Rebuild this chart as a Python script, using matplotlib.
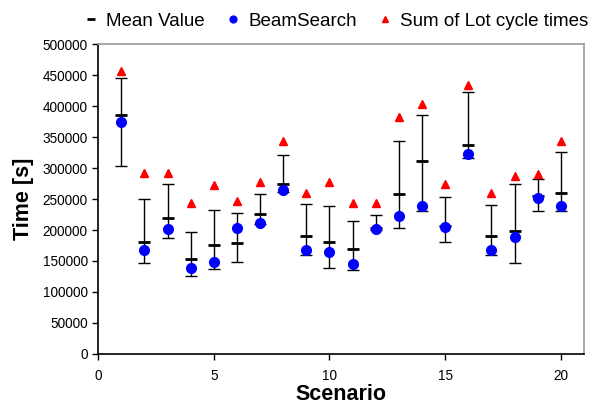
import numpy as np
import matplotlib.pyplot as plt

plt.rcParams['font.family'] = ['Liberation Sans', 'DejaVu Sans']

# scenario numbers
scenario = np.arange(1, 21)

# BeamSearch result per scenario
beam = [374000, 167000, 201000, 139000, 148000, 204000, 211500, 265000, 167000, 165000,
        144500, 201000, 222000, 239000, 204500, 322500, 167000, 189500, 252500, 239000]

# Sum of Lot cycle times
lot_sum = [457000, 292000, 292000, 244000, 272000, 247500, 277000, 344000, 259500, 277000,
           243000, 243000, 383500, 404000, 275000, 435000, 259500, 287500, 290000, 343500]

# Mean value with min / max range
mean_val = [386500, 180500, 220000, 153000, 175500, 179000, 225500, 275000, 191000, 180000,
            170000, 203000, 258000, 311000, 206000, 338000, 191000, 198000, 255000, 259500]
range_max = [445500, 250500, 274000, 197000, 233000, 227500, 258500, 320500, 241500, 238500,
             214000, 224500, 344500, 385500, 253500, 423500, 241000, 274500, 282500, 326000]
range_min = [303000, 147000, 186500, 126000, 137000, 149000, 210000, 262000, 159000, 138500,
             135500, 200000, 204000, 231000, 181000, 317000, 159000, 147000, 231000, 231000]

fig = plt.figure(figsize=(5.91, 4.08), dpi=100)
ax = fig.add_axes([0.166, 0.133, 0.822, 0.758])

mean_arr = np.array(mean_val)
yerr = [mean_arr - np.array(range_min), np.array(range_max) - mean_arr]
ax.errorbar(scenario, mean_val, yerr=yerr, fmt='none', ecolor='black',
            elinewidth=1, capsize=4, capthick=1, zorder=2)
ax.plot(scenario, mean_val, linestyle='none', marker='_', markersize=8,
        markeredgewidth=2, color='black', label='Mean Value', zorder=3)
ax.plot(scenario, beam, linestyle='none', marker='o', markersize=7,
        color='#0000ff', label='BeamSearch', zorder=4)
ax.plot(scenario, lot_sum, linestyle='none', marker='^', markersize=6,
        color='#ff0000', label='Sum of Lot cycle times', zorder=4)

ax.set_xlim(0, 21)
ax.set_ylim(0, 500000)
ax.set_xticks([0, 5, 10, 15, 20])
ax.set_yticks(np.arange(0, 500001, 50000))
ax.tick_params(axis='both', labelsize=9.8, length=4, width=1, direction='out')
ax.tick_params(axis='x', pad=7)

for side in ['top', 'right']:
    ax.spines[side].set_color('#999999')
    ax.spines[side].set_linewidth(1.2)
for side in ['left', 'bottom']:
    ax.spines[side].set_color('black')
    ax.spines[side].set_linewidth(1.2)

ax.set_xlabel('Scenario', fontsize=15.5, fontweight='bold', labelpad=1)
ax.set_ylabel('Time [s]', fontsize=15.5, fontweight='bold', labelpad=6)

fig.legend(loc='upper center', bbox_to_anchor=(0.57, 1.01), ncol=3, frameon=False,
           fontsize=13.5, handlelength=0.6, handletextpad=0.5, columnspacing=1.2,
           markerscale=0.7)

fig.savefig('out.png', dpi=100)
